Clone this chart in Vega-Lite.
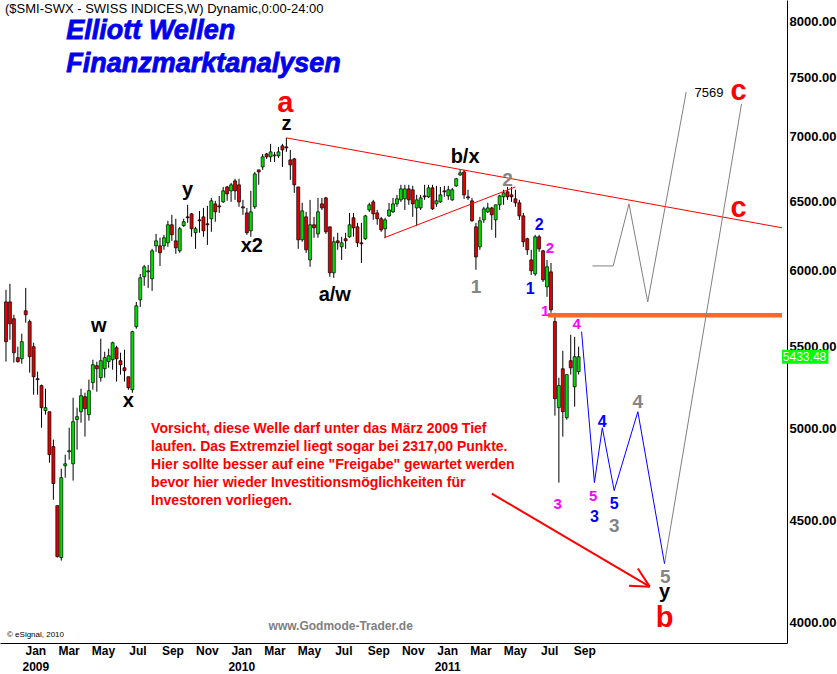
{
"$schema":"https://vega.github.io/schema/vega-lite/v6.json",
"width":787,"height":643,
"autosize":{"type":"none"},
"padding":{"left":0,"top":0,"right":50,"bottom":31},
"background":"white",
"config":{"view":{"stroke":null},"text":{"font":"Liberation Sans"}},
"datasets":{
"candles":[
{"d":"2008-11-10","o":5788,"h":5869,"l":5403,"c":5529},
{"d":"2008-11-17","o":5788,"h":5910,"l":5541,"c":5644},
{"d":"2008-11-24","o":5677,"h":5703,"l":5397,"c":5459},
{"d":"2008-12-01","o":5428,"h":5497,"l":5397,"c":5403},
{"d":"2008-12-08","o":5421,"h":5580,"l":5390,"c":5529},
{"d":"2008-12-15","o":5729,"h":5882,"l":5651,"c":5703},
{"d":"2008-12-22","o":5658,"h":5671,"l":5335,"c":5434},
{"d":"2008-12-29","o":5497,"h":5522,"l":5201,"c":5310},
{"d":"2009-01-05","o":5298,"h":5341,"l":5201,"c":5292},
{"d":"2009-01-12","o":5256,"h":5262,"l":5007,"c":5124},
{"d":"2009-01-19","o":5106,"h":5237,"l":5083,"c":5124},
{"d":"2009-01-26","o":5100,"h":5100,"l":4809,"c":4854},
{"d":"2009-02-02","o":4899,"h":4939,"l":4608,"c":4695},
{"d":"2009-02-09","o":4577,"h":4577,"l":4311,"c":4316},
{"d":"2009-02-16","o":4311,"h":4776,"l":4296,"c":4727},
{"d":"2009-02-23","o":4792,"h":4854,"l":4727,"c":4803},
{"d":"2009-03-02","o":4870,"h":5007,"l":4826,"c":4876},
{"d":"2009-03-09","o":4803,"h":5183,"l":4711,"c":5042},
{"d":"2009-03-16","o":5054,"h":5124,"l":4882,"c":5071},
{"d":"2009-03-23","o":5100,"h":5237,"l":5036,"c":5195},
{"d":"2009-03-30","o":5189,"h":5213,"l":4956,"c":5118},
{"d":"2009-04-06","o":5083,"h":5292,"l":5048,"c":5225},
{"d":"2009-04-13","o":5274,"h":5415,"l":5231,"c":5384},
{"d":"2009-04-20","o":5378,"h":5403,"l":5219,"c":5359},
{"d":"2009-04-27","o":5304,"h":5548,"l":5280,"c":5409},
{"d":"2009-05-04","o":5359,"h":5465,"l":5304,"c":5428},
{"d":"2009-05-11","o":5403,"h":5484,"l":5365,"c":5440},
{"d":"2009-05-18","o":5415,"h":5529,"l":5353,"c":5522},
{"d":"2009-05-25","o":5490,"h":5503,"l":5280,"c":5421},
{"d":"2009-06-01","o":5409,"h":5459,"l":5323,"c":5384},
{"d":"2009-06-08","o":5365,"h":5478,"l":5280,"c":5347},
{"d":"2009-06-15","o":5310,"h":5310,"l":5231,"c":5243},
{"d":"2009-06-22","o":5231,"h":5599,"l":5213,"c":5593},
{"d":"2009-06-29","o":5625,"h":5788,"l":5612,"c":5762},
{"d":"2009-07-06","o":5802,"h":5978,"l":5755,"c":5951},
{"d":"2009-07-13","o":5958,"h":6040,"l":5896,"c":6027},
{"d":"2009-07-20","o":5992,"h":6040,"l":5882,"c":5999},
{"d":"2009-07-27","o":5944,"h":6153,"l":5862,"c":6139},
{"d":"2009-08-03","o":6174,"h":6260,"l":6132,"c":6210},
{"d":"2009-08-10","o":6174,"h":6232,"l":6033,"c":6125},
{"d":"2009-08-17","o":6174,"h":6253,"l":6146,"c":6232},
{"d":"2009-08-24","o":6196,"h":6355,"l":6167,"c":6326},
{"d":"2009-08-31","o":6326,"h":6399,"l":6210,"c":6253},
{"d":"2009-09-07","o":6210,"h":6370,"l":6118,"c":6160},
{"d":"2009-09-14","o":6139,"h":6311,"l":6125,"c":6297},
{"d":"2009-09-21","o":6319,"h":6370,"l":6311,"c":6348},
{"d":"2009-09-28","o":6384,"h":6473,"l":6340,"c":6377},
{"d":"2009-10-05","o":6406,"h":6413,"l":6239,"c":6297},
{"d":"2009-10-12","o":6268,"h":6311,"l":6153,"c":6297},
{"d":"2009-10-19","o":6362,"h":6428,"l":6268,"c":6355},
{"d":"2009-10-26","o":6384,"h":6450,"l":6239,"c":6282},
{"d":"2009-11-02","o":6333,"h":6465,"l":6181,"c":6326},
{"d":"2009-11-09","o":6370,"h":6525,"l":6275,"c":6503},
{"d":"2009-11-16","o":6480,"h":6503,"l":6348,"c":6421},
{"d":"2009-11-23","o":6465,"h":6540,"l":6413,"c":6458},
{"d":"2009-11-30","o":6495,"h":6608,"l":6488,"c":6578},
{"d":"2009-12-07","o":6608,"h":6616,"l":6503,"c":6555},
{"d":"2009-12-14","o":6578,"h":6639,"l":6495,"c":6624},
{"d":"2009-12-21","o":6654,"h":6670,"l":6510,"c":6578},
{"d":"2009-12-28","o":6624,"h":6670,"l":6458,"c":6495},
{"d":"2010-01-04","o":6458,"h":6510,"l":6399,"c":6450},
{"d":"2010-01-11","o":6413,"h":6450,"l":6253,"c":6268},
{"d":"2010-01-18","o":6282,"h":6578,"l":6239,"c":6421},
{"d":"2010-01-25","o":6458,"h":6723,"l":6443,"c":6708},
{"d":"2010-02-01","o":6739,"h":6739,"l":6624,"c":6723},
{"d":"2010-02-08","o":6762,"h":6864,"l":6739,"c":6841},
{"d":"2010-02-15","o":6864,"h":6872,"l":6825,"c":6841},
{"d":"2010-02-22","o":6841,"h":6944,"l":6801,"c":6880},
{"d":"2010-03-01","o":6849,"h":6880,"l":6801,"c":6856},
{"d":"2010-03-08","o":6849,"h":6920,"l":6833,"c":6880},
{"d":"2010-03-15","o":6928,"h":6944,"l":6762,"c":6896},
{"d":"2010-03-22","o":6920,"h":6992,"l":6880,"c":6912},
{"d":"2010-03-29","o":6817,"h":6896,"l":6662,"c":6778},
{"d":"2010-04-05","o":6825,"h":6833,"l":6563,"c":6624},
{"d":"2010-04-12","o":6608,"h":6608,"l":6153,"c":6217},
{"d":"2010-04-19","o":6217,"h":6488,"l":6203,"c":6428},
{"d":"2010-04-26","o":6384,"h":6421,"l":6125,"c":6146},
{"d":"2010-05-03","o":6075,"h":6510,"l":6027,"c":6326},
{"d":"2010-05-10","o":6326,"h":6384,"l":6232,"c":6304},
{"d":"2010-05-17","o":6260,"h":6525,"l":6232,"c":6421},
{"d":"2010-05-24","o":6480,"h":6525,"l":6435,"c":6450},
{"d":"2010-05-31","o":6525,"h":6533,"l":6260,"c":6275},
{"d":"2010-06-07","o":6311,"h":6311,"l":5958,"c":5985},
{"d":"2010-06-14","o":5985,"h":6239,"l":5951,"c":6203},
{"d":"2010-06-21","o":6210,"h":6268,"l":6146,"c":6196},
{"d":"2010-06-28","o":6167,"h":6239,"l":6075,"c":6196},
{"d":"2010-07-05","o":6225,"h":6268,"l":6153,"c":6210},
{"d":"2010-07-12","o":6239,"h":6413,"l":6232,"c":6326},
{"d":"2010-07-19","o":6377,"h":6413,"l":6239,"c":6304},
{"d":"2010-07-26","o":6311,"h":6340,"l":6167,"c":6196},
{"d":"2010-08-02","o":6196,"h":6340,"l":6054,"c":6189},
{"d":"2010-08-09","o":6225,"h":6399,"l":6217,"c":6391},
{"d":"2010-08-16","o":6435,"h":6488,"l":6421,"c":6473},
{"d":"2010-08-23","o":6495,"h":6510,"l":6362,"c":6406},
{"d":"2010-08-30","o":6413,"h":6435,"l":6326,"c":6370},
{"d":"2010-09-06","o":6370,"h":6384,"l":6275,"c":6289},
{"d":"2010-09-13","o":6297,"h":6377,"l":6232,"c":6362},
{"d":"2010-09-20","o":6391,"h":6488,"l":6384,"c":6435},
{"d":"2010-09-27","o":6421,"h":6525,"l":6413,"c":6480},
{"d":"2010-10-04","o":6480,"h":6548,"l":6458,"c":6518},
{"d":"2010-10-11","o":6510,"h":6624,"l":6495,"c":6593},
{"d":"2010-10-18","o":6518,"h":6624,"l":6435,"c":6593},
{"d":"2010-10-25","o":6593,"h":6624,"l":6473,"c":6510},
{"d":"2010-11-01","o":6586,"h":6616,"l":6384,"c":6480},
{"d":"2010-11-08","o":6450,"h":6548,"l":6319,"c":6510},
{"d":"2010-11-15","o":6450,"h":6548,"l":6435,"c":6525},
{"d":"2010-11-22","o":6540,"h":6624,"l":6510,"c":6533},
{"d":"2010-11-29","o":6533,"h":6624,"l":6525,"c":6601},
{"d":"2010-12-06","o":6601,"h":6624,"l":6435,"c":6443},
{"d":"2010-12-13","o":6480,"h":6616,"l":6458,"c":6503},
{"d":"2010-12-20","o":6495,"h":6608,"l":6488,"c":6548},
{"d":"2010-12-27","o":6578,"h":6616,"l":6533,"c":6571},
{"d":"2011-01-03","o":6540,"h":6616,"l":6510,"c":6586},
{"d":"2011-01-10","o":6510,"h":6601,"l":6503,"c":6586},
{"d":"2011-01-17","o":6616,"h":6677,"l":6608,"c":6670},
{"d":"2011-01-24","o":6700,"h":6739,"l":6692,"c":6716},
{"d":"2011-01-31","o":6723,"h":6739,"l":6518,"c":6548},
{"d":"2011-02-07","o":6533,"h":6586,"l":6510,"c":6525},
{"d":"2011-02-14","o":6503,"h":6525,"l":6348,"c":6355},
{"d":"2011-02-21","o":6311,"h":6340,"l":6006,"c":6096},
{"d":"2011-02-28","o":6167,"h":6384,"l":6146,"c":6355},
{"d":"2011-03-07","o":6362,"h":6458,"l":6340,"c":6443},
{"d":"2011-03-14","o":6421,"h":6488,"l":6413,"c":6450},
{"d":"2011-03-21","o":6450,"h":6458,"l":6289,"c":6399},
{"d":"2011-03-28","o":6362,"h":6473,"l":6232,"c":6473},
{"d":"2011-04-04","o":6473,"h":6548,"l":6435,"c":6540},
{"d":"2011-04-11","o":6533,"h":6586,"l":6473,"c":6563},
{"d":"2011-04-18","o":6571,"h":6608,"l":6510,"c":6533},
{"d":"2011-04-25","o":6548,"h":6608,"l":6495,"c":6533},
{"d":"2011-05-02","o":6518,"h":6586,"l":6458,"c":6488},
{"d":"2011-05-09","o":6488,"h":6510,"l":6362,"c":6391},
{"d":"2011-05-16","o":6391,"h":6413,"l":6167,"c":6203},
{"d":"2011-05-23","o":6225,"h":6232,"l":6110,"c":6146},
{"d":"2011-05-30","o":6075,"h":6146,"l":5971,"c":5999},
{"d":"2011-06-06","o":5978,"h":6253,"l":5965,"c":6239},
{"d":"2011-06-13","o":6239,"h":6253,"l":6132,"c":6153},
{"d":"2011-06-20","o":6139,"h":6146,"l":5923,"c":5937},
{"d":"2011-06-27","o":5889,"h":6075,"l":5822,"c":6027},
{"d":"2011-07-04","o":5992,"h":6054,"l":5716,"c":5735},
{"d":"2011-07-11","o":5658,"h":5716,"l":5077,"c":5177},
{"d":"2011-07-18","o":5124,"h":5304,"l":4700,"c":5256},
{"d":"2011-07-25","o":5359,"h":5471,"l":4956,"c":5100},
{"d":"2011-08-01","o":5065,"h":5323,"l":5054,"c":5323},
{"d":"2011-08-08","o":5409,"h":5573,"l":5323,"c":5365},
{"d":"2011-08-15","o":5249,"h":5560,"l":5130,"c":5434},
{"d":"2011-08-22","o":5341,"h":5497,"l":5323,"c":5433.48}
],
"paths":[
{"path":"upper","ord":1,"d":"2010-03-22","p":6992},
{"path":"upper","ord":2,"d":"2012-08-16T12:00:00Z","p":6304},
{"path":"lower","ord":1,"d":"2010-09-11T06:00:00Z","p":6232},
{"path":"lower","ord":2,"d":"2011-05-02","p":6608},
{"path":"support","ord":1,"d":"2011-06-28T18:00:00Z","p":5700},
{"path":"support","ord":2,"d":"2012-08-16T12:00:00Z","p":5700},
{"path":"waveb","ord":1,"d":"2011-08-27T06:00:00Z","p":5593},
{"path":"waveb","ord":2,"d":"2011-09-19","p":4700},
{"path":"waveb","ord":3,"d":"2011-10-03","p":5007},
{"path":"waveb","ord":4,"d":"2011-10-24","p":4657},
{"path":"waveb","ord":5,"d":"2011-12-05","p":5100},
{"path":"waveb","ord":6,"d":"2012-01-21T06:00:00Z","p":4281},
{"path":"altc","ord":1,"d":"2011-09-15T12:00:00Z","p":6033},
{"path":"altc","ord":2,"d":"2011-10-22T06:00:00Z","p":6033},
{"path":"altc","ord":3,"d":"2011-11-19T06:00:00Z","p":6480},
{"path":"altc","ord":4,"d":"2011-12-22T12:00:00Z","p":5788},
{"path":"altc","ord":5,"d":"2012-02-28T18:00:00Z","p":7373},
{"path":"wavec","ord":1,"d":"2012-01-21T06:00:00Z","p":4281},
{"path":"wavec","ord":2,"d":"2012-06-05T18:00:00Z","p":7271},
{"path":"arrow_shaft","ord":1,"d":"2011-03-21","p":4641},
{"path":"arrow_shaft","ord":2,"d":"2011-12-26","p":4169},
{"path":"arrow_head1","ord":1,"d":"2011-11-19T06:00:00Z","p":4174},
{"path":"arrow_head1","ord":2,"d":"2011-12-26","p":4169},
{"path":"arrow_head2","ord":1,"d":"2011-12-05","p":4257},
{"path":"arrow_head2","ord":2,"d":"2011-12-26","p":4169}
],
"waves":[
{"deg":"primary","d":"2010-03-20T06:00:00Z","p":7205,"t":"a"},
{"deg":"primary","d":"2012-01-21T06:00:00Z","p":3981,"t":"b"},
{"deg":"primary","d":"2012-05-31T12:00:00Z","p":7304,"t":"c"},
{"deg":"primary","d":"2012-05-31T12:00:00Z","p":6384,"t":"c"},
{"deg":"intermediate","d":"2010-03-22","p":7056,"t":"z"},
{"deg":"intermediate","d":"2009-09-28","p":6541,"t":"y"},
{"deg":"intermediate","d":"2010-01-19T18:00:00Z","p":6132,"t":"x2"},
{"deg":"intermediate","d":"2009-04-23T12:00:00Z","p":5593,"t":"w"},
{"deg":"intermediate","d":"2009-06-15","p":5130,"t":"x"},
{"deg":"intermediate","d":"2010-06-15T18:00:00Z","p":5795,"t":"a/w"},
{"deg":"intermediate","d":"2011-02-01T18:00:00Z","p":6793,"t":"b/x"},
{"deg":"intermediate","d":"2012-01-21T06:00:00Z","p":4117,"t":"y"},
{"deg":"minor","d":"2011-04-18","p":6616,"t":"2"},
{"deg":"minor","d":"2011-02-21","p":5849,"t":"1"},
{"deg":"minor","d":"2011-12-05","p":5124,"t":"4"},
{"deg":"minor","d":"2011-10-24","p":4442,"t":"3"},
{"deg":"minor","d":"2012-01-22T18:00:00Z","p":4188,"t":"5"},
{"deg":"minute","d":"2011-06-13","p":6289,"t":"2"},
{"deg":"minute","d":"2011-05-28T06:00:00Z","p":5842,"t":"1"},
{"deg":"minute","d":"2011-10-03","p":5013,"t":"4"},
{"deg":"minute","d":"2011-09-19","p":4494,"t":"3"},
{"deg":"minute","d":"2011-10-24","p":4561,"t":"5"},
{"deg":"minuette","d":"2011-07-02","p":6125,"t":"2"},
{"deg":"minuette","d":"2011-06-23T12:00:00Z","p":5697,"t":"1"},
{"deg":"minuette","d":"2011-08-18T12:00:00Z","p":5612,"t":"4"},
{"deg":"minuette","d":"2011-07-16","p":4561,"t":"3"},
{"deg":"minuette","d":"2011-09-17","p":4603,"t":"5"}
],
"notes":[
{"kind":"source","d":"2008-11-08T06:00:00Z","p":8074,"t":"($SMI-SWX - SWISS INDICES,W) Dynamic,0:00-24:00"},
{"kind":"brand","d":"2009-02-24T18:00:00Z","p":7836,"t":"Elliott Wellen"},
{"kind":"brand","d":"2009-02-24T18:00:00Z","p":7544,"t":"Finanzmarktanalysen"},
{"kind":"comment","d":"2009-07-25T06:00:00Z","p":4978,"t":"Vorsicht, diese Welle darf unter das März 2009 Tief"},
{"kind":"comment","d":"2009-07-25T06:00:00Z","p":4876,"t":"laufen. Das Extremziel liegt sogar bei 2317,00 Punkte."},
{"kind":"comment","d":"2009-07-25T06:00:00Z","p":4776,"t":"Hier sollte besser auf eine \"Freigabe\" gewartet werden"},
{"kind":"comment","d":"2009-07-25T06:00:00Z","p":4679,"t":"bevor hier wieder Investitionsmöglichkeiten für"},
{"kind":"comment","d":"2009-07-25T06:00:00Z","p":4582,"t":"Investoren vorliegen."},
{"kind":"target","d":"2012-04-09","p":7330,"t":"7569"},
{"kind":"site","d":"2010-06-26T06:00:00Z","p":3967,"t":"www.Godmode-Trader.de"},
{"kind":"copyright","d":"2008-11-11T18:00:00Z","p":3935,"t":"© eSignal, 2010"},
{"kind":"last","d":"2012-08-18","p":5434,"t":"5433.48"}
],
"lastbox":[
{"d":"2012-08-16T12:00:00Z","d2":"2012-11-06T18:00:00Z","p":5477,"p2":5390}
]
},
"layer":[
{
"data":{"name":"candles"},
"mark":{"type":"rule","color":"black","strokeWidth":1},
"encoding":{
"x":{"field":"d","type":"temporal",
"scale":{"type":"utc","domain":[{"year":2008,"month":11,"date":8,"hours":6,"utc":true},{"year":2012,"month":8,"date":16,"hours":12,"utc":true}]},
"axis":{"title":null,"values":[
{"year":2009,"month":1,"date":1,"utc":true},{"year":2009,"month":3,"date":1,"utc":true},{"year":2009,"month":5,"date":1,"utc":true},{"year":2009,"month":7,"date":1,"utc":true},{"year":2009,"month":9,"date":1,"utc":true},{"year":2009,"month":11,"date":1,"utc":true},
{"year":2010,"month":1,"date":1,"utc":true},{"year":2010,"month":3,"date":1,"utc":true},{"year":2010,"month":5,"date":1,"utc":true},{"year":2010,"month":7,"date":1,"utc":true},{"year":2010,"month":9,"date":1,"utc":true},{"year":2010,"month":11,"date":1,"utc":true},
{"year":2011,"month":1,"date":1,"utc":true},{"year":2011,"month":3,"date":1,"utc":true},{"year":2011,"month":5,"date":1,"utc":true},{"year":2011,"month":7,"date":1,"utc":true},{"year":2011,"month":9,"date":1,"utc":true}],
"labelExpr":"utcFormat(datum.value, '%m') == '01' ? [utcFormat(datum.value, '%b'), utcFormat(datum.value, '%Y')] : utcFormat(datum.value, '%b')",
"ticks":false,"grid":false,"domainColor":"black","domainWidth":1,
"labelFont":"Liberation Sans","labelFontWeight":"bold","labelFontSize":12,"labelColor":"black",
"labelPadding":2,"labelLineHeight":16,"labelOverlap":false,"labelFlush":false}},
"y":{"field":"l","type":"quantitative",
"scale":{"type":"log","domain":[3907,8196],"nice":false,"zero":false},
"axis":{"title":null,"orient":"right","values":[4000,4500,5000,5500,6000,6500,7000,7500,8000],"format":".2f",
"ticks":false,"grid":false,"domainColor":"black","domainWidth":1,"labelAlign":"left","labelBaseline":"middle","labelPadding":2,
"labelFont":"Liberation Sans","labelFontWeight":"bold","labelFontSize":13,"labelColor":"black","labelOverlap":false,"labelFlush":false}},
"y2":{"field":"h"}
}
},
{
"data":{"name":"candles"},
"mark":{"type":"bar","size":3,"stroke":"black","strokeWidth":0.7},
"encoding":{
"x":{"field":"d","type":"temporal"},
"y":{"field":"o","type":"quantitative"},
"y2":{"field":"c"},
"color":{"condition":{"test":"datum.c >= datum.o","value":"#00dd00"},"value":"#e00000"}
}
},
{
"data":{"name":"paths"},
"transform":[{"filter":"datum.path == 'support'"}],
"mark":{"type":"line","color":"#f7692a","strokeWidth":4.5},
"encoding":{"x":{"field":"d","type":"temporal"},"y":{"field":"p","type":"quantitative"},"order":{"field":"ord"}}
},
{
"data":{"name":"paths"},
"transform":[{"filter":"datum.path == 'upper' || datum.path == 'lower'"}],
"mark":{"type":"line","color":"#ff0000","strokeWidth":1},
"encoding":{"x":{"field":"d","type":"temporal"},"y":{"field":"p","type":"quantitative"},"detail":{"field":"path"},"order":{"field":"ord"}}
},
{
"data":{"name":"paths"},
"transform":[{"filter":"datum.path == 'altc' || datum.path == 'wavec'"}],
"mark":{"type":"line","color":"#808080","strokeWidth":1},
"encoding":{"x":{"field":"d","type":"temporal"},"y":{"field":"p","type":"quantitative"},"detail":{"field":"path"},"order":{"field":"ord"}}
},
{
"data":{"name":"paths"},
"transform":[{"filter":"datum.path == 'waveb'"}],
"mark":{"type":"line","color":"#0000ff","strokeWidth":1},
"encoding":{"x":{"field":"d","type":"temporal"},"y":{"field":"p","type":"quantitative"},"order":{"field":"ord"}}
},
{
"data":{"name":"paths"},
"transform":[{"filter":"indexof(datum.path, 'arrow') == 0"}],
"mark":{"type":"line","color":"#ff0000","strokeWidth":2},
"encoding":{"x":{"field":"d","type":"temporal"},"y":{"field":"p","type":"quantitative"},"detail":{"field":"path"},"order":{"field":"ord"}}
},
{
"data":{"name":"waves"},
"transform":[{"filter":"datum.deg == 'primary'"}],
"mark":{"type":"text","align":"center","baseline":"alphabetic","fontSize":29,"fontWeight":"bold","color":"#ff0000"},
"encoding":{"x":{"field":"d","type":"temporal"},"y":{"field":"p","type":"quantitative"},"text":{"field":"t"}}
},
{
"data":{"name":"waves"},
"transform":[{"filter":"datum.deg == 'intermediate'"}],
"mark":{"type":"text","align":"center","baseline":"alphabetic","fontSize":20,"fontWeight":"bold","color":"#000000"},
"encoding":{"x":{"field":"d","type":"temporal"},"y":{"field":"p","type":"quantitative"},"text":{"field":"t"}}
},
{
"data":{"name":"waves"},
"transform":[{"filter":"datum.deg == 'minor'"}],
"mark":{"type":"text","align":"center","baseline":"alphabetic","fontSize":19,"fontWeight":"bold","color":"#858585"},
"encoding":{"x":{"field":"d","type":"temporal"},"y":{"field":"p","type":"quantitative"},"text":{"field":"t"}}
},
{
"data":{"name":"waves"},
"transform":[{"filter":"datum.deg == 'minute'"}],
"mark":{"type":"text","align":"center","baseline":"alphabetic","fontSize":16,"fontWeight":"bold","color":"#0000ff"},
"encoding":{"x":{"field":"d","type":"temporal"},"y":{"field":"p","type":"quantitative"},"text":{"field":"t"}}
},
{
"data":{"name":"waves"},
"transform":[{"filter":"datum.deg == 'minuette'"}],
"mark":{"type":"text","align":"center","baseline":"alphabetic","fontSize":15,"fontWeight":"bold","color":"#ff00ff"},
"encoding":{"x":{"field":"d","type":"temporal"},"y":{"field":"p","type":"quantitative"},"text":{"field":"t"}}
},
{
"data":{"name":"notes"},
"transform":[{"filter":"datum.kind == 'source'"}],
"mark":{"type":"text","align":"left","baseline":"alphabetic","fontSize":13,"color":"#000000"},
"encoding":{"x":{"field":"d","type":"temporal"},"y":{"field":"p","type":"quantitative"},"text":{"field":"t"}}
},
{
"data":{"name":"notes"},
"transform":[{"filter":"datum.kind == 'brand'"}],
"mark":{"type":"text","align":"left","baseline":"alphabetic","fontSize":27,"fontWeight":"bold","fontStyle":"italic","color":"#0000ee","stroke":"#0000ee","strokeWidth":0.8},
"encoding":{"x":{"field":"d","type":"temporal"},"y":{"field":"p","type":"quantitative"},"text":{"field":"t"}}
},
{
"data":{"name":"notes"},
"transform":[{"filter":"datum.kind == 'comment'"}],
"mark":{"type":"text","align":"left","baseline":"alphabetic","fontSize":14,"fontWeight":"bold","color":"#ff0000"},
"encoding":{"x":{"field":"d","type":"temporal"},"y":{"field":"p","type":"quantitative"},"text":{"field":"t"}}
},
{
"data":{"name":"notes"},
"transform":[{"filter":"datum.kind == 'target'"}],
"mark":{"type":"text","align":"center","baseline":"alphabetic","fontSize":13,"color":"#000000"},
"encoding":{"x":{"field":"d","type":"temporal"},"y":{"field":"p","type":"quantitative"},"text":{"field":"t"}}
},
{
"data":{"name":"notes"},
"transform":[{"filter":"datum.kind == 'site'"}],
"mark":{"type":"text","align":"center","baseline":"alphabetic","fontSize":12,"fontWeight":"bold","color":"#808080"},
"encoding":{"x":{"field":"d","type":"temporal"},"y":{"field":"p","type":"quantitative"},"text":{"field":"t"}}
},
{
"data":{"name":"notes"},
"transform":[{"filter":"datum.kind == 'copyright'"}],
"mark":{"type":"text","align":"left","baseline":"alphabetic","fontSize":8,"color":"#000000"},
"encoding":{"x":{"field":"d","type":"temporal"},"y":{"field":"p","type":"quantitative"},"text":{"field":"t"}}
},
{
"data":{"name":"lastbox"},
"mark":{"type":"rect","color":"#00ff00"},
"encoding":{"x":{"field":"d","type":"temporal"},"x2":{"field":"d2"},"y":{"field":"p","type":"quantitative"},"y2":{"field":"p2"}}
},
{
"data":{"name":"notes"},
"transform":[{"filter":"datum.kind == 'last'"}],
"mark":{"type":"text","align":"left","baseline":"middle","fontSize":12,"color":"#ffffff"},
"encoding":{"x":{"field":"d","type":"temporal"},"y":{"field":"p","type":"quantitative"},"text":{"field":"t"}}
}
]
}
